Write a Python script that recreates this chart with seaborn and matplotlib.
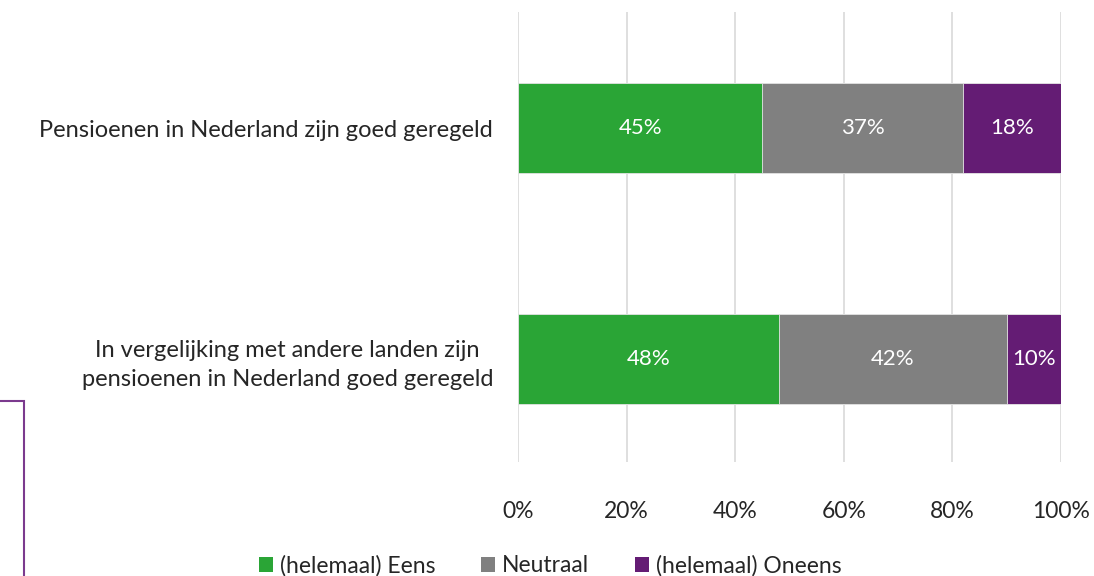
import numpy as np
import pandas as pd
import matplotlib.pyplot as plt
import seaborn as sns
from matplotlib.patches import Rectangle, Patch

statements = [
    "Pensioenen in Nederland zijn goed geregeld",
    "In vergelijking met andere landen zijn\npensioenen in Nederland goed geregeld",
]
eens = [45, 48]
neutraal = [37, 42]
oneens = [18, 10]
series_names = ["(helemaal) Eens", "Neutraal", "(helemaal) Oneens"]
colors = ["#2aa536", "#808080", "#641c74"]

sns.set_theme(style="white")
plt.rcParams['font.family'] = ['Lato', 'DejaVu Sans']

df = pd.DataFrame({"statement": statements, "eens": eens,
                   "neutraal": neutraal, "oneens": oneens})
df["cum_eens"] = df["eens"]
df["cum_neutraal"] = df["eens"] + df["neutraal"]
df["cum_oneens"] = df["cum_neutraal"] + df["oneens"]

fig = plt.figure(figsize=(10.94, 5.76), dpi=100)
ax = fig.add_axes([0.4735, 0.198, 0.4963, 0.781])

# stacked bars drawn as overlapping cumulative bars, back to front
for col, color in zip(["cum_oneens", "cum_neutraal", "cum_eens"], colors[::-1]):
    sns.barplot(data=df, x=col, y="statement", orient="h", color=color,
                saturation=1, width=0.39, edgecolor="#e6e6e6", linewidth=0.6,
                ax=ax, zorder=3)

# labels in the middle of each segment
for i, row in df.iterrows():
    lefts = [0, row["cum_eens"], row["cum_neutraal"]]
    vals = [row["eens"], row["neutraal"], row["oneens"]]
    for left, v in zip(lefts, vals):
        ax.text(left + v / 2, i, f"{v}%", ha="center", va="center",
                color="white", fontsize=16, zorder=5)

ax.set_xlim(0, 100)
ax.set_ylim(1.446, -0.502)
ax.set_xticks(np.arange(0, 101, 20))
ax.set_xticklabels([f"{t}%" for t in range(0, 101, 20)], fontsize=16.5)
ax.tick_params(axis="x", pad=28, length=0)
ax.tick_params(axis="y", labelsize=17, pad=18, length=0)
ax.set_xlabel("")
ax.set_ylabel("")
ax.grid(axis="x", color="#d9d9d9", linewidth=1.2, zorder=0)
for s in ax.spines.values():
    s.set_visible(False)
for lab in ax.get_yticklabels():
    lab.set_horizontalalignment("right")
    lab.set_multialignment("center")
    lab.set_linespacing(1.5)

handles = [Patch(facecolor=c, edgecolor="none", label=n)
           for c, n in zip(colors, series_names)]
fig.legend(handles=handles, loc="center", bbox_to_anchor=(0.503, 0.018),
           ncol=3, frameon=False, fontsize=16.5, handlelength=0.6,
           handleheight=0.6, handletextpad=0.3, columnspacing=2.0)

# stray outline box at lower left of the original image
fig.patches.append(Rectangle((-0.01, -0.01), 0.032, 0.314,
                             transform=fig.transFigure, fill=False,
                             edgecolor="#7b3a8e", linewidth=1.5))

fig.savefig("out.png", dpi=100)
